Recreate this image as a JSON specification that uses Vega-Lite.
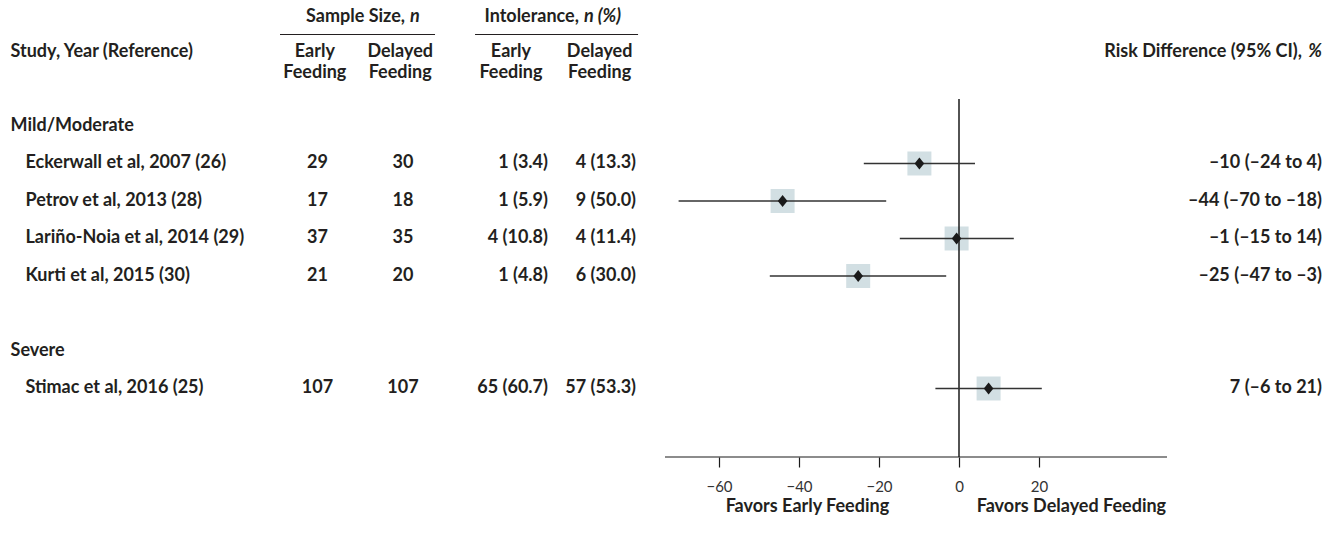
{
  "$schema": "https://vega.github.io/schema/vega-lite/v6.json",
  "width": 1334,
  "height": 457,
  "autosize": {"type": "pad"},
  "padding": 0,
  "background": "white",
  "config": {
    "view": {"stroke": null},
    "text": {"font": "Lato", "fontWeight": "bold", "fontSize": 18, "color": "#231f20", "baseline": "middle"}
  },
  "datasets": {
    "studies": [
      {"study": "Eckerwall et al, 2007 (26)", "row": 2, "nEarly": 29, "nDelayed": 30, "intEarly": "1 (3.4)", "intDelayed": "4 (13.3)", "rd": -9.9, "lo": -23.8, "hi": 4.0, "rdLabel": "–10 (–24 to 4)"},
      {"study": "Petrov et al, 2013 (28)", "row": 3, "nEarly": 17, "nDelayed": 18, "intEarly": "1 (5.9)", "intDelayed": "9 (50.0)", "rd": -44.1, "lo": -70.1, "hi": -18.2, "rdLabel": "–44 (–70 to –18)"},
      {"study": "Lariño-Noia et al, 2014 (29)", "row": 4, "nEarly": 37, "nDelayed": 35, "intEarly": "4 (10.8)", "intDelayed": "4 (11.4)", "rd": -0.6, "lo": -14.8, "hi": 13.7, "rdLabel": "–1 (–15 to 14)"},
      {"study": "Kurti et al, 2015 (30)", "row": 5, "nEarly": 21, "nDelayed": 20, "intEarly": "1 (4.8)", "intDelayed": "6 (30.0)", "rd": -25.2, "lo": -47.3, "hi": -3.2, "rdLabel": "–25 (–47 to –3)"},
      {"study": "Stimac et al, 2016 (25)", "row": 8, "nEarly": 107, "nDelayed": 107, "intEarly": "65 (60.7)", "intDelayed": "57 (53.3)", "rd": 7.4, "lo": -5.9, "hi": 20.7, "rdLabel": "7 (–6 to 21)"}
    ],
    "groups": [
      {"label": "Mild/Moderate", "row": 1},
      {"label": "Severe", "row": 7}
    ],
    "one": [{"k": 1}]
  },
  "layer": [
    {
      "layer": [
        {"data": {"name": "groups"}, "mark": {"type": "text", "align": "left"},
         "encoding": {"x": {"datum": 0.79, "type": "quantitative", "scale": {"domain": [0, 100], "nice": false, "zero": false}, "axis": null},
                      "y": {"field": "row", "type": "quantitative", "scale": {"domain": [-2.36, 9.827], "reverse": true, "nice": false, "zero": false}, "axis": null},
                      "text": {"field": "label"}}},
        {"data": {"name": "studies"}, "mark": {"type": "text", "align": "left"},
         "encoding": {"x": {"datum": 1.91, "type": "quantitative", "scale": {"domain": [0, 100], "nice": false, "zero": false}, "axis": null},
                      "y": {"field": "row", "type": "quantitative", "scale": {"domain": [-2.36, 9.827], "reverse": true, "nice": false, "zero": false}, "axis": null},
                      "text": {"field": "study"}}},
        {"data": {"name": "studies"}, "mark": {"type": "text", "align": "center"},
         "encoding": {"x": {"datum": 23.8, "type": "quantitative", "scale": {"domain": [0, 100], "nice": false, "zero": false}, "axis": null},
                      "y": {"field": "row", "type": "quantitative", "scale": {"domain": [-2.36, 9.827], "reverse": true, "nice": false, "zero": false}, "axis": null},
                      "text": {"field": "nEarly"}}},
        {"data": {"name": "studies"}, "mark": {"type": "text", "align": "center"},
         "encoding": {"x": {"datum": 30.21, "type": "quantitative", "scale": {"domain": [0, 100], "nice": false, "zero": false}, "axis": null},
                      "y": {"field": "row", "type": "quantitative", "scale": {"domain": [-2.36, 9.827], "reverse": true, "nice": false, "zero": false}, "axis": null},
                      "text": {"field": "nDelayed"}}},
        {"data": {"name": "studies"}, "mark": {"type": "text", "align": "right"},
         "encoding": {"x": {"datum": 41.08, "type": "quantitative", "scale": {"domain": [0, 100], "nice": false, "zero": false}, "axis": null},
                      "y": {"field": "row", "type": "quantitative", "scale": {"domain": [-2.36, 9.827], "reverse": true, "nice": false, "zero": false}, "axis": null},
                      "text": {"field": "intEarly"}}},
        {"data": {"name": "studies"}, "mark": {"type": "text", "align": "right"},
         "encoding": {"x": {"datum": 47.68, "type": "quantitative", "scale": {"domain": [0, 100], "nice": false, "zero": false}, "axis": null},
                      "y": {"field": "row", "type": "quantitative", "scale": {"domain": [-2.36, 9.827], "reverse": true, "nice": false, "zero": false}, "axis": null},
                      "text": {"field": "intDelayed"}}},
        {"data": {"name": "studies"}, "mark": {"type": "text", "align": "right"},
         "encoding": {"x": {"datum": 99.1, "type": "quantitative", "scale": {"domain": [0, 100], "nice": false, "zero": false}, "axis": null},
                      "y": {"field": "row", "type": "quantitative", "scale": {"domain": [-2.36, 9.827], "reverse": true, "nice": false, "zero": false}, "axis": null},
                      "text": {"field": "rdLabel"}}},
        {"data": {"name": "one"}, "mark": {"type": "text", "align": "left", "text": "Study, Year (Reference)"},
         "encoding": {"x": {"datum": 0.79, "type": "quantitative", "scale": {"domain": [0, 100], "nice": false, "zero": false}, "axis": null},
                      "y": {"datum": -0.97, "type": "quantitative", "scale": {"domain": [-2.36, 9.827], "reverse": true, "nice": false, "zero": false}, "axis": null}}},
        {"data": {"name": "one"}, "mark": {"type": "text", "align": "center", "text": ["Early", "Feeding"], "lineHeight": 21},
         "encoding": {"x": {"datum": 23.6, "type": "quantitative", "scale": {"domain": [0, 100], "nice": false, "zero": false}, "axis": null},
                      "y": {"datum": -0.97, "type": "quantitative", "scale": {"domain": [-2.36, 9.827], "reverse": true, "nice": false, "zero": false}, "axis": null}}},
        {"data": {"name": "one"}, "mark": {"type": "text", "align": "center", "text": ["Delayed", "Feeding"], "lineHeight": 21},
         "encoding": {"x": {"datum": 30.0, "type": "quantitative", "scale": {"domain": [0, 100], "nice": false, "zero": false}, "axis": null},
                      "y": {"datum": -0.97, "type": "quantitative", "scale": {"domain": [-2.36, 9.827], "reverse": true, "nice": false, "zero": false}, "axis": null}}},
        {"data": {"name": "one"}, "mark": {"type": "text", "align": "center", "text": ["Early", "Feeding"], "lineHeight": 21},
         "encoding": {"x": {"datum": 38.3, "type": "quantitative", "scale": {"domain": [0, 100], "nice": false, "zero": false}, "axis": null},
                      "y": {"datum": -0.97, "type": "quantitative", "scale": {"domain": [-2.36, 9.827], "reverse": true, "nice": false, "zero": false}, "axis": null}}},
        {"data": {"name": "one"}, "mark": {"type": "text", "align": "center", "text": ["Delayed", "Feeding"], "lineHeight": 21},
         "encoding": {"x": {"datum": 44.95, "type": "quantitative", "scale": {"domain": [0, 100], "nice": false, "zero": false}, "axis": null},
                      "y": {"datum": -0.97, "type": "quantitative", "scale": {"domain": [-2.36, 9.827], "reverse": true, "nice": false, "zero": false}, "axis": null}}},
        {"data": {"name": "one"}, "mark": {"type": "text", "align": "right", "text": "Sample Size,"},
         "encoding": {"x": {"datum": 30.36, "type": "quantitative", "scale": {"domain": [0, 100], "nice": false, "zero": false}, "axis": null},
                      "y": {"datum": -1.907, "type": "quantitative", "scale": {"domain": [-2.36, 9.827], "reverse": true, "nice": false, "zero": false}, "axis": null}}},
        {"data": {"name": "one"}, "mark": {"type": "text", "align": "left", "text": "n", "fontStyle": "italic", "dx": 5},
         "encoding": {"x": {"datum": 30.36, "type": "quantitative", "scale": {"domain": [0, 100], "nice": false, "zero": false}, "axis": null},
                      "y": {"datum": -1.907, "type": "quantitative", "scale": {"domain": [-2.36, 9.827], "reverse": true, "nice": false, "zero": false}, "axis": null}}},
        {"data": {"name": "one"}, "mark": {"type": "text", "align": "right", "text": "Intolerance,"},
         "encoding": {"x": {"datum": 43.4, "type": "quantitative", "scale": {"domain": [0, 100], "nice": false, "zero": false}, "axis": null},
                      "y": {"datum": -1.907, "type": "quantitative", "scale": {"domain": [-2.36, 9.827], "reverse": true, "nice": false, "zero": false}, "axis": null}}},
        {"data": {"name": "one"}, "mark": {"type": "text", "align": "left", "text": "n (%)", "fontStyle": "italic", "dx": 5},
         "encoding": {"x": {"datum": 43.4, "type": "quantitative", "scale": {"domain": [0, 100], "nice": false, "zero": false}, "axis": null},
                      "y": {"datum": -1.907, "type": "quantitative", "scale": {"domain": [-2.36, 9.827], "reverse": true, "nice": false, "zero": false}, "axis": null}}},
        {"data": {"name": "one"}, "mark": {"type": "text", "align": "right", "text": "Risk Difference (95% CI),"},
         "encoding": {"x": {"datum": 97.6, "type": "quantitative", "scale": {"domain": [0, 100], "nice": false, "zero": false}, "axis": null},
                      "y": {"datum": -0.97, "type": "quantitative", "scale": {"domain": [-2.36, 9.827], "reverse": true, "nice": false, "zero": false}, "axis": null}}},
        {"data": {"name": "one"}, "mark": {"type": "text", "align": "right", "text": "%", "fontStyle": "italic"},
         "encoding": {"x": {"datum": 99.1, "type": "quantitative", "scale": {"domain": [0, 100], "nice": false, "zero": false}, "axis": null},
                      "y": {"datum": -0.97, "type": "quantitative", "scale": {"domain": [-2.36, 9.827], "reverse": true, "nice": false, "zero": false}, "axis": null}}},
        {"data": {"name": "one"}, "mark": {"type": "rule", "color": "#231f20", "strokeWidth": 1.2},
         "encoding": {"x": {"datum": 20.99, "type": "quantitative", "scale": {"domain": [0, 100], "nice": false, "zero": false}, "axis": null},
                      "x2": {"datum": 32.61},
                      "y": {"datum": -1.44, "type": "quantitative", "scale": {"domain": [-2.36, 9.827], "reverse": true, "nice": false, "zero": false}, "axis": null}}},
        {"data": {"name": "one"}, "mark": {"type": "rule", "color": "#231f20", "strokeWidth": 1.2},
         "encoding": {"x": {"datum": 35.61, "type": "quantitative", "scale": {"domain": [0, 100], "nice": false, "zero": false}, "axis": null},
                      "x2": {"datum": 47.83},
                      "y": {"datum": -1.44, "type": "quantitative", "scale": {"domain": [-2.36, 9.827], "reverse": true, "nice": false, "zero": false}, "axis": null}}}
      ]
    },
    {
      "layer": [
        {"data": {"name": "studies"}, "mark": {"type": "point", "shape": "square", "filled": true, "size": 576, "color": "#d2dfe3", "opacity": 1},
         "encoding": {"x": {"field": "rd", "type": "quantitative", "scale": {"domain": [-239.75, 93.75], "nice": false, "zero": false},
                            "axis": {"orient": "bottom", "values": [-60, -40, -20, 0, 20], "domain": false, "grid": false, "ticks": true, "tickSize": 10, "tickColor": "#1a1a1a", "tickWidth": 1.2, "labelFont": "Lato", "labelFontSize": 15, "labelColor": "#333333", "labelPadding": 12, "title": null}},
                      "y": {"field": "row", "type": "quantitative", "scale": {"domain": [-2.36, 9.827], "reverse": true, "nice": false, "zero": false}, "axis": null}}},
        {"data": {"name": "one"}, "mark": {"type": "rule", "color": "#1a1a1a", "strokeWidth": 1.5},
         "encoding": {"x": {"datum": 0, "type": "quantitative", "scale": {"domain": [-239.75, 93.75], "nice": false, "zero": false}},
                      "y": {"datum": 0.28, "type": "quantitative", "scale": {"domain": [-2.36, 9.827], "reverse": true, "nice": false, "zero": false}, "axis": null},
                      "y2": {"datum": 9.827}}},
        {"data": {"name": "one"}, "mark": {"type": "rule", "color": "#1a1a1a", "strokeWidth": 1.2},
         "encoding": {"x": {"datum": -73.5, "type": "quantitative", "scale": {"domain": [-239.75, 93.75], "nice": false, "zero": false}},
                      "x2": {"datum": 52},
                      "y": {"datum": 9.827, "type": "quantitative", "scale": {"domain": [-2.36, 9.827], "reverse": true, "nice": false, "zero": false}, "axis": null}}},
        {"data": {"name": "studies"}, "mark": {"type": "rule", "color": "#333333", "strokeWidth": 1.5},
         "encoding": {"x": {"field": "lo", "type": "quantitative", "scale": {"domain": [-239.75, 93.75], "nice": false, "zero": false}},
                      "x2": {"field": "hi"},
                      "y": {"field": "row", "type": "quantitative", "scale": {"domain": [-2.36, 9.827], "reverse": true, "nice": false, "zero": false}, "axis": null}}},
        {"data": {"name": "studies"}, "mark": {"type": "point", "shape": "M-0.8,0L0,-1L0.8,0L0,1Z", "filled": true, "size": 144, "color": "#1a1a1a", "opacity": 1},
         "encoding": {"x": {"field": "rd", "type": "quantitative", "scale": {"domain": [-239.75, 93.75], "nice": false, "zero": false}},
                      "y": {"field": "row", "type": "quantitative", "scale": {"domain": [-2.36, 9.827], "reverse": true, "nice": false, "zero": false}, "axis": null}}},
        {"data": {"name": "one"}, "mark": {"type": "text", "align": "center", "text": "Favors Early Feeding"},
         "encoding": {"x": {"datum": -37.9, "type": "quantitative", "scale": {"domain": [-239.75, 93.75], "nice": false, "zero": false}},
                      "y": {"datum": 11.15, "type": "quantitative", "scale": {"domain": [-2.36, 9.827], "reverse": true, "nice": false, "zero": false}, "axis": null}}},
        {"data": {"name": "one"}, "mark": {"type": "text", "align": "center", "text": "Favors Delayed Feeding"},
         "encoding": {"x": {"datum": 28.1, "type": "quantitative", "scale": {"domain": [-239.75, 93.75], "nice": false, "zero": false}},
                      "y": {"datum": 11.15, "type": "quantitative", "scale": {"domain": [-2.36, 9.827], "reverse": true, "nice": false, "zero": false}, "axis": null}}}
      ]
    }
  ],
  "resolve": {"scale": {"x": "independent"}, "axis": {"x": "independent"}}
}
